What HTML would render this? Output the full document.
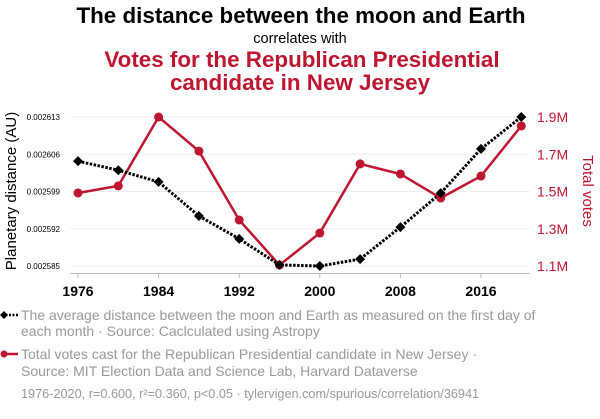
<!DOCTYPE html>
<html><head><meta charset="utf-8"><style>
body{margin:0;width:600px;height:414px;background:#fff;font-family:"Liberation Sans",sans-serif;overflow:hidden}
svg text{font-family:"Liberation Sans",sans-serif}
</style></head><body>
<svg id="c" width="600" height="414">
<text x="301" y="23" text-anchor="middle" font-size="22.4" font-weight="bold" fill="#000">The distance between the moon and Earth</text>
<text x="300" y="43" text-anchor="middle" font-size="14.5" fill="#000">correlates with</text>
<text x="302" y="67" text-anchor="middle" font-size="22.4" font-weight="bold" fill="#be1630">Votes for the Republican Presidential</text>
<text x="300" y="90" text-anchor="middle" font-size="22.4" font-weight="bold" fill="#be1630">candidate in New Jersey</text>
<text transform="translate(16,191) rotate(-90)" text-anchor="middle" font-size="15" fill="#000">Planetary distance (AU)</text>
<text transform="translate(583,191) rotate(90)" text-anchor="middle" font-size="15" fill="#be1630">Total votes</text>
<g id="grid"></g><g id="axes"></g><g id="marks"></g>
<g>
<line x1="2" y1="315" x2="18" y2="315" stroke="#000" stroke-width="2.5" stroke-dasharray="2,1.5"/>
<path d="M0,315 L4,311 L8,315 L4,319Z" fill="#000"/>
<text x="21" y="320" font-size="14" fill="#999">The average distance between the moon and Earth as measured on the first day of</text>
<text x="21" y="336" font-size="14" fill="#999">each month · Source: Caclculated using Astropy</text>
<line x1="4" y1="354" x2="18" y2="354" stroke="#be1630" stroke-width="2.5"/>
<circle cx="4" cy="354" r="3.5" fill="#be1630"/>
<text x="21" y="359" font-size="14" fill="#999">Total votes cast for the Republican Presidential candidate in New Jersey ·</text>
<text x="21" y="376" font-size="14" fill="#999">Source: MIT Election Data and Science Lab, Harvard Dataverse</text>
<text x="21" y="398" font-size="12.7" fill="#999">1976-2020, r=0.600, r²=0.360, p&lt;0.05 · tylervigen.com/spurious/correlation/36941</text>
</g>
</svg>
<script>
const years=[1976,1980,1984,1988,1992,1996,2000,2004,2008,2012,2016,2020];
const moon=[0.0026047,0.0026030,0.0026008,0.0025944,0.0025901,0.0025852,0.002585,0.0025863,0.0025923,0.0025987,0.0026070,0.002613];
const votes=[1.492,1.530,1.9,1.717,1.347,1.105,1.277,1.648,1.594,1.465,1.583,1.852];
const leftTicks=[0.002585,0.002592,0.002599,0.002606,0.002613];
const rightTicks=[1.1,1.3,1.5,1.7,1.9];
const xTicks=[1976,1984,1992,2000,2008,2016];
const NS='http://www.w3.org/2000/svg';
const x=y=>78+(y-1976)*10.075;
const yL=v=>266-(v-0.002585)/0.000028*149;
const yR=v=>266-(v-1.1)/0.8*149;
function mk(p,t,a){const e=document.createElementNS(NS,t);for(const k in a)e.setAttribute(k,a[k]);document.getElementById(p).appendChild(e);return e;}
leftTicks.forEach(v=>{
 const g=mk('grid','line',{x1:70,x2:530,y1:yL(v),y2:yL(v),stroke:'#eee','stroke-width':1});
 
 
 const t=mk('axes','text',{x:60,y:yL(v)+3,'text-anchor':'end','font-size':8,fill:'#000'});
 t.textContent=v.toFixed(6);
 
 
});
rightTicks.forEach(v=>{
 const t=mk('axes','text',{x:537,y:yR(v)+5,'font-size':14,fill:'#be1630'});
 t.textContent=v.toFixed(1)+'M';
 
 
});
const ax=mk('axes','line',{x1:70,x2:530,y1:273.5,y2:273.5,stroke:'#bbb','stroke-width':1});


xTicks.forEach(v=>{
 mk('axes','line',{x1:x(v),x2:x(v),y1:273,y2:278,stroke:'#bbb'});
 const t=mk('axes','text',{x:x(v),y:296,'text-anchor':'middle','font-size':14,'font-weight':'bold',fill:'#000'});
 t.textContent=v;
 
 
});
const pv=mk('marks','polyline',{points:years.map((y,i)=>x(y)+','+yR(votes[i])).join(' '),fill:'none',stroke:'#be1630','stroke-width':2.5});


const pm=mk('marks','polyline',{points:years.map((y,i)=>x(y)+','+yL(moon[i])).join(' '),fill:'none',stroke:'#000','stroke-width':3,'stroke-dasharray':'2.5,1.5'});


years.forEach((y,i)=>{
 const c=mk('marks','circle',{cx:x(y),cy:yR(votes[i]),r:4.5,fill:'#be1630'});
 
 
 const X=x(y),Y=yL(moon[i]);
 const d=mk('marks','path',{d:`M${X-5},${Y} L${X},${Y-5} L${X+5},${Y} L${X},${Y+5}Z`,fill:'#000'});
 
 
});
</script>
</body></html>
